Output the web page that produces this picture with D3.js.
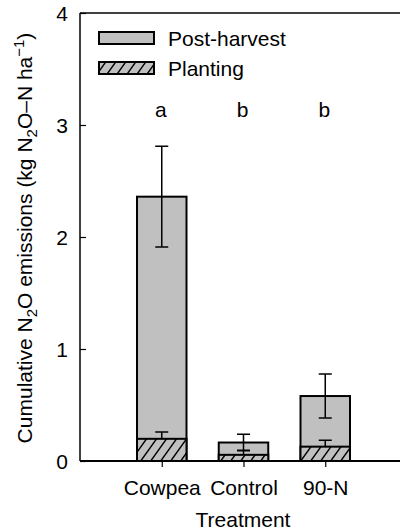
<!DOCTYPE html>
<html>
<head>
<meta charset="utf-8">
<script src="https://cdn.jsdelivr.net/npm/d3@7"></script>
<style>
  body { margin: 0; background: #fff; }
  text { font-family: "Liberation Sans", Arial, sans-serif; fill: #000; }
</style>
</head>
<body>
<svg id="chart" width="400" height="531"></svg>
<script>
var treatments = ["Cowpea", "Control", "90-N"];
var postHarvest = [2.36, 0.165, 0.58];     // total bar height
var postHarvestErr = [0.45, 0.073, 0.197];
var planting = [0.198, 0.055, 0.128];
var plantingErr = [0.062, 0.042, 0.057];
var letters = ["a", "b", "b"];
var yTicks = [0, 1, 2, 3, 4];

var FS = "21px";
var svg = d3.select("#chart");
var margin = {top: 13, left: 80, bottom: 70};
var plotBottom = 461, plotRight = 407;

var y = d3.scaleLinear().domain([0, 4]).range([plotBottom, margin.top]);
var x = d3.scaleLinear().domain([0, treatments.length + 1]).range([margin.left, plotRight]);
var barW = 49.5;

// hatch pattern
var defs = svg.append("defs");
var pat = defs.append("pattern")
  .attr("id", "hatch")
  .attr("patternUnits", "userSpaceOnUse")
  .attr("width", 10).attr("height", 14);
pat.append("rect").attr("width", 10).attr("height", 14).attr("fill", "#c0c0c0");
pat.append("path")
  .attr("d", "M0,14L10,0M-2,2.8L2,-2.8M8,16.8L12,11.2")
  .attr("stroke", "#000").attr("stroke-width", 1.4);

var g = svg.append("g");

// frame top line
g.append("line").attr("x1", margin.left).attr("x2", plotRight)
  .attr("y1", margin.top).attr("y2", margin.top)
  .attr("stroke", "#000").attr("stroke-width", 1.5);

// bars
var bars = g.selectAll(".bar").data(treatments).enter().append("g").attr("class", "bar");

bars.append("rect")
  .attr("x", function(d, i) { return x(i + 1) - barW / 2; })
  .attr("y", function(d, i) { return y(postHarvest[i]); })
  .attr("width", barW)
  .attr("height", function(d, i) { return y(0) - y(postHarvest[i]); })
  .attr("fill", "#c0c0c0").attr("stroke", "#000").attr("stroke-width", 2);

// total error bars (both directions)
bars.append("path")
  .attr("d", function(d, i) {
    var cx = x(i + 1), hi = y(postHarvest[i] + postHarvestErr[i]), lo = y(postHarvest[i] - postHarvestErr[i]);
    return "M" + cx + "," + lo + "V" + hi + "M" + (cx - 6.5) + "," + hi + "H" + (cx + 6.5) +
      "M" + (cx - 6.5) + "," + lo + "H" + (cx + 6.5);
  })
  .attr("fill", "none").attr("stroke", "#000").attr("stroke-width", 1.5);

bars.append("rect")
  .attr("x", function(d, i) { return x(i + 1) - barW / 2; })
  .attr("y", function(d, i) { return y(planting[i]); })
  .attr("width", barW)
  .attr("height", function(d, i) { return y(0) - y(planting[i]); })
  .attr("fill", "url(#hatch)").attr("stroke", "#000").attr("stroke-width", 2);

// planting error bars (upward)
bars.append("path")
  .attr("d", function(d, i) {
    var cx = x(i + 1), hi = y(planting[i] + plantingErr[i]), lo = y(planting[i]);
    return "M" + cx + "," + lo + "V" + hi + "M" + (cx - 6.5) + "," + hi + "H" + (cx + 6.5);
  })
  .attr("fill", "none").attr("stroke", "#000").attr("stroke-width", 1.5);

bars.append("text")
  .attr("x", function(d, i) { return x(i + 1) - 1; })
  .attr("y", 117)
  .attr("text-anchor", "middle")
  .style("font-size", FS)
  .text(function(d, i) { return letters[i]; });

// y axis
var yAxis = d3.axisLeft(y).tickValues(yTicks).tickSize(-6).tickPadding(12).tickFormat(d3.format("d"));
var ya = g.append("g").attr("transform", "translate(" + margin.left + ",0)").call(yAxis);
ya.select(".domain").remove();
ya.selectAll(".tick line").attr("stroke", "#000").attr("stroke-width", 1.2);
ya.selectAll(".tick text").style("font-size", FS).style("font-family", "Liberation Sans, Arial, sans-serif").attr("dy", "0.36em");
g.append("line").attr("x1", margin.left).attr("x2", margin.left)
  .attr("y1", margin.top).attr("y2", plotBottom)
  .attr("stroke", "#000").attr("stroke-width", 1.5);

// x axis
var xAxis = d3.axisBottom(x).tickValues([1, 2, 3]).tickSize(6).tickPadding(13)
  .tickFormat(function(d) { return treatments[d - 1]; });
var xa = g.append("g").attr("transform", "translate(0," + plotBottom + ")").call(xAxis);
xa.select(".domain").remove();
xa.selectAll(".tick line").attr("stroke", "#000").attr("stroke-width", 1.2);
xa.selectAll(".tick text").style("font-size", FS).style("font-family", "Liberation Sans, Arial, sans-serif");
g.append("line").attr("x1", margin.left).attr("x2", plotRight)
  .attr("y1", plotBottom).attr("y2", plotBottom)
  .attr("stroke", "#000").attr("stroke-width", 2);

// axis titles
svg.append("text")
  .attr("x", 243).attr("y", 527)
  .attr("text-anchor", "middle")
  .style("font-size", FS)
  .text("Treatment");

var yt = svg.append("text")
  .attr("transform", "translate(32,238) rotate(-90)")
  .attr("text-anchor", "middle")
  .style("font-size", FS);
yt.append("tspan").text("Cumulative N");
yt.append("tspan").attr("dy", 5).style("font-size", "15px").text("2");
yt.append("tspan").attr("dy", -5).text("O emissions (kg N");
yt.append("tspan").attr("dy", 5).style("font-size", "15px").text("2");
yt.append("tspan").attr("dy", -5).text("O\u2013N ha");
yt.append("tspan").attr("dy", -8).style("font-size", "15px").text("\u22121");
yt.append("tspan").attr("dy", 8).text(")");

// legend
var legend = [
  {label: "Post-harvest", fill: "#c0c0c0", y: 32},
  {label: "Planting", fill: "url(#hatch)", y: 62}
];
var lg = svg.selectAll(".leg").data(legend).enter().append("g").attr("class", "leg");
lg.append("rect")
  .attr("x", 99).attr("y", function(d) { return d.y; })
  .attr("width", 55).attr("height", 12)
  .attr("fill", function(d) { return d.fill; })
  .attr("stroke", "#000").attr("stroke-width", 2);
lg.append("text")
  .attr("x", 168).attr("y", function(d) { return d.y + 14; })
  .style("font-size", FS)
  .text(function(d) { return d.label; });
</script>
</body>
</html>
